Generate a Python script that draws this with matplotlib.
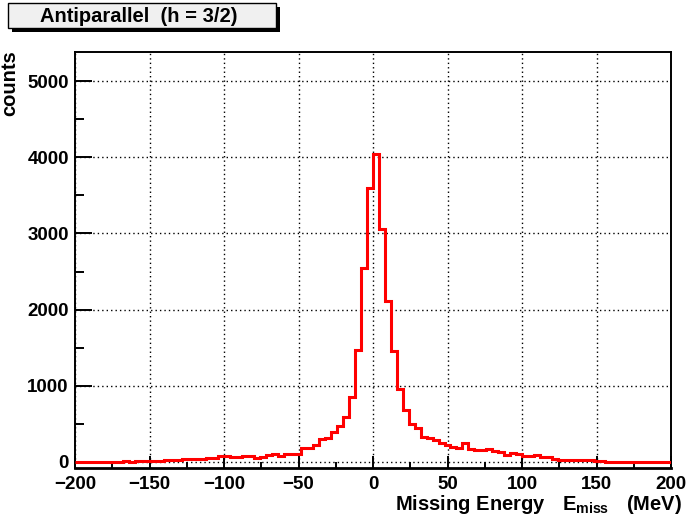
import matplotlib
matplotlib.use('Agg')
import matplotlib.pyplot as plt
import numpy as np
from matplotlib.patches import Rectangle
from matplotlib.ticker import MultipleLocator

plt.rcParams['font.family'] = ['Liberation Sans', 'DejaVu Sans']
plt.rcParams['font.weight'] = 'bold'
plt.rcParams['mathtext.fontset'] = 'custom'
plt.rcParams['mathtext.rm'] = 'Liberation Sans:bold'
plt.rcParams['mathtext.bf'] = 'Liberation Sans:bold'
plt.rcParams['mathtext.it'] = 'Liberation Sans:bold'

# histogram: 100 bins of 4 MeV from -200 to 200 MeV
e_lo, e_hi, n_bins = -200, 200, 100
counts = [
    3, 2, 4, 3, 5, 4, 6, 5, 7, 6,
    8, 9, 10, 12, 14, 22, 20, 30, 33, 45,
    42, 40, 55, 58, 72, 82, 66, 64, 74, 72,
    56, 60, 92, 100, 74, 108, 110, 100, 180, 185,
    222, 300, 320, 392, 467, 585, 856, 1467, 2550, 3598,
    4040, 3057, 2113, 1458, 952, 685, 505, 440, 323, 310,
    290, 250, 218, 192, 190, 253, 170, 157, 157, 170,
    148, 131, 96, 113, 105, 74, 74, 87, 66, 66,
    39, 22, 25, 31, 30, 22, 20, 18, 8, 6,
    5, 6, 4, 5, 3, 4, 3, 2, 3, 2,
]
title = 'Antiparallel  (h = 3/2)'
x_title = r'$\mathbf{Missing\ Energy\ \ \ E_{miss}\ \ \ (MeV)}$'
y_title = 'counts'

edges = np.linspace(e_lo, e_hi, n_bins + 1)

fig = plt.figure(figsize=(6.91, 5.19), dpi=100)
ax = fig.add_axes([75 / 691, 50.7 / 519, 596 / 691, 416.6 / 519])

ax.stairs(counts, edges, color='red', lw=2.2, baseline=None, zorder=3)

ax.set_xlim(-200, 200)
ax.set_ylim(-83, 5385)
ax.xaxis.set_major_locator(MultipleLocator(50))
ax.xaxis.set_minor_locator(MultipleLocator(25))
ax.yaxis.set_major_locator(MultipleLocator(1000))
ax.yaxis.set_minor_locator(MultipleLocator(500))

ax.grid(True, which='major', color='black', linestyle=(0, (1, 2.2)), lw=1.0)
ax.tick_params(axis='x', which='major', direction='in', length=9, width=1.4,
               labelsize=13.5, pad=5.5)
ax.tick_params(axis='x', which='minor', direction='in', length=4.5, width=1.4)
ax.tick_params(axis='y', which='major', direction='in', length=12, width=1.4,
               labelsize=13.5, pad=4.5)
ax.tick_params(axis='y', which='minor', direction='in', length=6.5, width=1.4)
for lab in ax.get_xticklabels() + ax.get_yticklabels():
    lab.set_fontweight('bold')
for sp in ax.spines.values():
    sp.set_linewidth(1.4)
ax.spines['bottom'].set_linewidth(2)

fig.text(682 / 691, 1 - 509.5 / 519, x_title, ha='right', va='baseline', fontsize=14.5)
fig.text(10 / 691, 1 - 50 / 519, y_title, ha='center', va='top', rotation=90,
         fontsize=14.5, fontweight='bold')

# title box with shadow
fig.patches.append(Rectangle((12 / 691, 1 - 32 / 519), 268 / 691, 25 / 519,
                             transform=fig.transFigure, facecolor='black',
                             edgecolor='black', lw=0))
fig.patches.append(Rectangle((8 / 691, 1 - 28 / 519), 268 / 691, 25 / 519,
                             transform=fig.transFigure, facecolor='#f0f0f0',
                             edgecolor='black', lw=1))
fig.text(139 / 691, 1 - 16 / 519, title, ha='center', va='center',
         fontsize=14.5, fontweight='bold')

fig.savefig('out.png', dpi=100)
